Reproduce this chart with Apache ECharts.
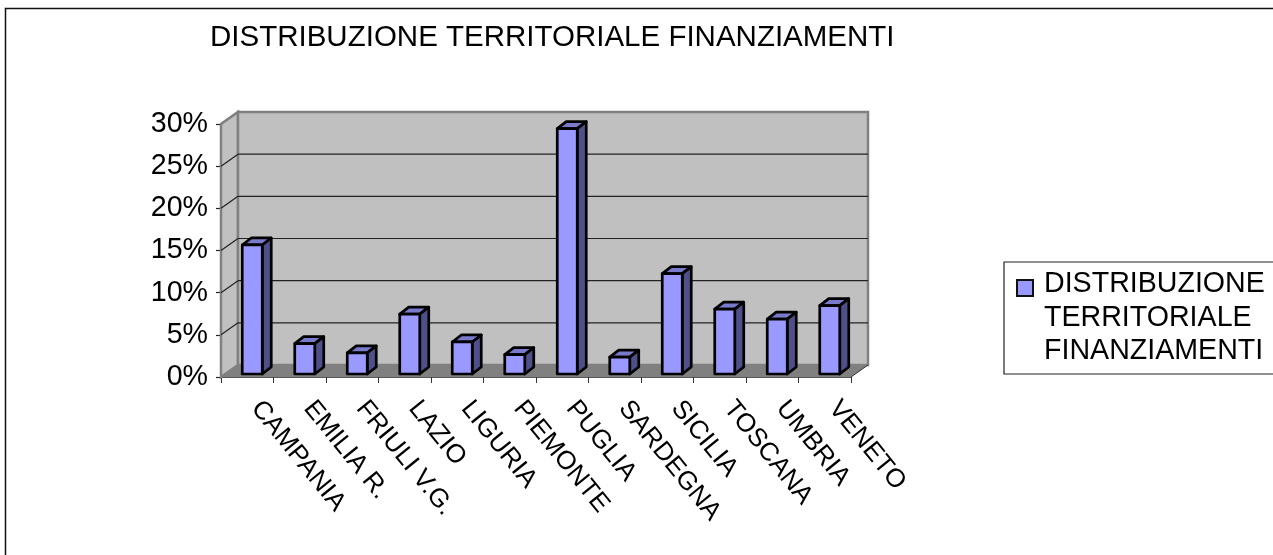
<!DOCTYPE html>
<html><head><meta charset="utf-8">
<style>html,body{margin:0;padding:0;background:#fff}#c{width:1273px;height:555px}</style>
<script src="https://cdn.jsdelivr.net/npm/echarts@6/dist/echarts.min.js"></script>
</head><body><div id="c"></div>
<script>
const categories = ['CAMPANIA','EMILIA R.','FRIULI V.G.','LAZIO','LIGURIA','PIEMONTE','PUGLIA','SARDEGNA','SICILIA','TOSCANA','UMBRIA','VENETO'];
const shares = [15.3,3.6,2.5,7.1,3.8,2.3,29.1,2.0,11.9,7.7,6.5,8.1];
const yTicks = [0,5,10,15,20,25,30];
const titleText = 'DISTRIBUZIONE TERRITORIALE FINANZIAMENTI';
const seriesName = 'DISTRIBUZIONE\nTERRITORIALE\nFINANZIAMENTI';
const FONT = '"Liberation Sans", Arial, sans-serif';
const DX = 17, DY = -12;

function renderWalls(params, api) {
  const v = api.value(1);
  const band = api.size([1, 0])[0];
  const last = categories.length - 1;
  const l = api.coord([0, v]); l[0] -= band / 2;
  const r = api.coord([last, v]); r[0] += band / 2;
  const children = [];
  if (v === 0) {
    const lt = api.coord([0, yTicks[yTicks.length - 1]]); lt[0] -= band / 2;
    const rt = api.coord([last, yTicks[yTicks.length - 1]]); rt[0] += band / 2;
    children.push({type:'polygon',shape:{points:[[l[0],l[1]],[l[0]+DX,l[1]+DY],[lt[0]+DX,lt[1]+DY],[lt[0],lt[1]]]},style:{fill:'#c0c0c0',stroke:'#808080',lineWidth:2.5}});
    children.push({type:'polygon',shape:{points:[[l[0]+DX,l[1]+DY],[r[0]+DX,r[1]+DY],[rt[0]+DX,rt[1]+DY],[lt[0]+DX,lt[1]+DY]]},style:{fill:'#c0c0c0',stroke:'#808080',lineWidth:2.5}});
    children.push({type:'polygon',shape:{points:[[l[0],l[1]],[r[0],r[1]],[r[0]+DX,r[1]+DY],[l[0]+DX,l[1]+DY]]},style:{fill:'#808080'}});
    children.push({type:'line',shape:{x1:r[0],y1:r[1],x2:r[0]+DX,y2:r[1]+DY},style:{stroke:'#333',lineWidth:1}});
  } else if (v < yTicks[yTicks.length - 1]) {
    children.push({type:'line',shape:{x1:l[0]+DX,y1:l[1]+DY,x2:r[0]+DX,y2:r[1]+DY},style:{stroke:'#222',lineWidth:1.2}});
    children.push({type:'line',shape:{x1:l[0],y1:l[1],x2:l[0]+DX,y2:l[1]+DY},style:{stroke:'#222',lineWidth:1.2}});
  }
  return {type:'group',children};
}

function renderBar(params, api) {
  const i = api.value(0), v = api.value(1);
  const base = api.coord([i, 0]), top = api.coord([i, v]);
  const x0 = base[0] - 5, x1 = base[0] + 15, yb = base[1] - 3, yt = top[1] - 3;
  const dx = 9, dy = -7;
  const st = {stroke:'#000',lineWidth:2.7,lineJoin:'round'};
  return {type:'group',children:[
    {type:'polygon',shape:{points:[[x0,yt],[x1,yt],[x1+dx,yt+dy],[x0+dx,yt+dy]]},style:Object.assign({fill:'#7a7acc'},st)},
    {type:'polygon',shape:{points:[[x1,yt],[x1+dx,yt+dy],[x1+dx,yb+dy],[x1,yb]]},style:Object.assign({fill:'#4f4f8a'},st)},
    {type:'rect',shape:{x:x0,y:yt,width:x1-x0,height:yb-yt},style:Object.assign({fill:'#9999ff'},st)}
  ]};
}

const chart = echarts.init(document.getElementById('c'), null, {renderer:'canvas'});
chart.setOption({
  animation:false,
  backgroundColor:'#fff',
  title:{text:titleText,left:210,top:23,padding:0,textStyle:{fontFamily:FONT,fontSize:29.5,fontWeight:'normal',color:'#000'}},
  legend:{
    left:1004,top:262,orient:'vertical',padding:[5,30,5,12],
    borderColor:'#222',borderWidth:1.2,backgroundColor:'#fff',
    data:[{name:seriesName,icon:'path://M0 0H0.01V0Z M0 12H16V28H0Z M0 100H0.01V100Z',itemStyle:{color:'#9999ff',borderColor:'#111',borderWidth:2}}],
    itemWidth:16,itemHeight:100,selectedMode:false,
    textStyle:{fontFamily:FONT,fontSize:28.6,lineHeight:33.5,color:'#000',padding:[0,0,0,6]}
  },
  grid:{left:221,right:422,top:124,bottom:178,containLabel:false},
  xAxis:{type:'category',data:categories,boundaryGap:true,
    axisLine:{lineStyle:{color:'#222',width:1.5}},
    axisTick:{show:true,length:6,inside:false,alignWithLabel:false,lineStyle:{color:'#333',width:1}},
    axisLabel:{interval:0,rotate:-51,margin:16,padding:[0,0,0,14],hideOverlap:false,fontFamily:FONT,fontSize:26,color:'#000'}
  },
  yAxis:{type:'value',min:0,max:30,interval:5,
    axisLine:{show:true,lineStyle:{color:'#222',width:1.5}},
    axisTick:{show:true,length:5,lineStyle:{color:'#222',width:1.2}},
    splitLine:{show:false},
    axisLabel:{formatter:'{value}%',margin:13,fontFamily:FONT,fontSize:28.6,color:'#000'}
  },
  graphic:[{type:'rect',z:-1,silent:true,shape:{x:5.5,y:8.5,width:1320,height:620},style:{fill:'none',stroke:'#111',lineWidth:1.5}}],
  series:[
    {type:'custom',name:'walls',z:1,silent:true,renderItem:renderWalls,clip:false,data:yTicks.map(t=>[0,t]),encode:{x:0,y:1}},
    {type:'custom',name:seriesName,z:2,renderItem:renderBar,clip:false,itemStyle:{color:'#9999ff'},data:shares.map((s,i)=>[i,s]),encode:{x:0,y:1}}
  ]
});
</script></body></html>
